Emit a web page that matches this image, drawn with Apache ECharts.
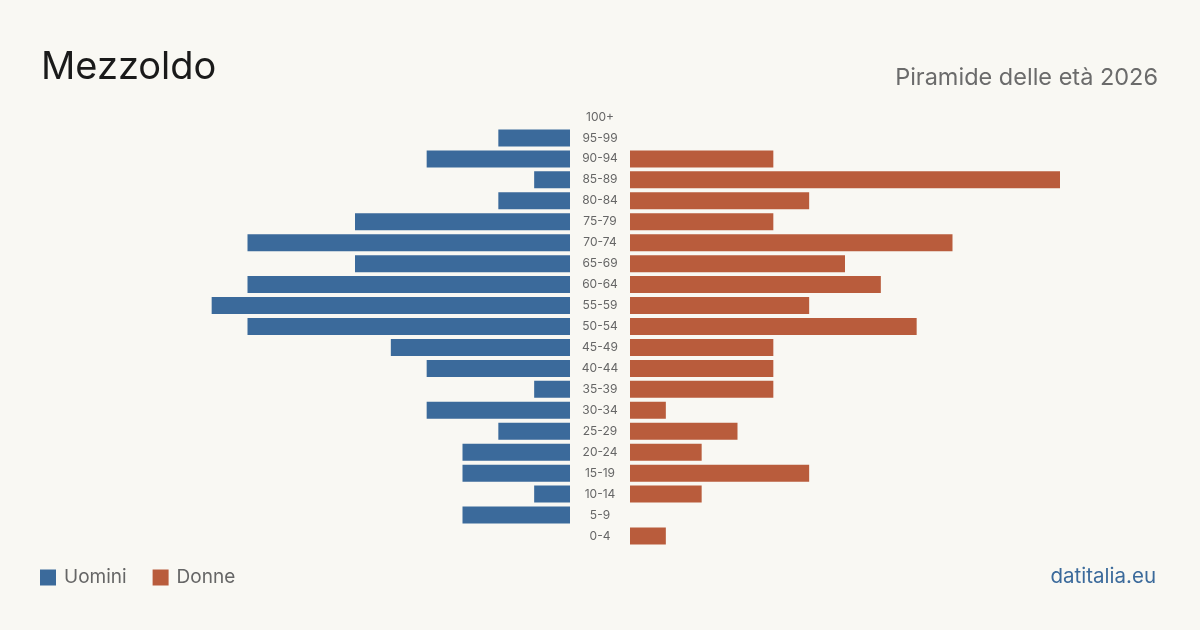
<!DOCTYPE html>
<html>
<head>
<meta charset="utf-8">
<script src="https://cdn.jsdelivr.net/npm/echarts@6/dist/echarts.min.js"></script>
<style>
  html, body { margin: 0; padding: 0; background: #f9f8f3; }
  #chart { width: 1200px; height: 630px; }
</style>
</head>
<body>
<div id="chart"></div>
<script>
// fasce d'età dal basso verso l'alto
const ageGroups = ['0-4', '5-9', '10-14', '15-19', '20-24', '25-29', '30-34', '35-39', '40-44', '45-49',
  '50-54', '55-59', '60-64', '65-69', '70-74', '75-79', '80-84', '85-89', '90-94', '95-99', '100+'];
const men = [0, 3, 1, 3, 3, 2, 4, 1, 4, 5, 9, 10, 9, 6, 9, 6, 2, 1, 4, 2, 0];
const women = [1, 0, 2, 5, 2, 3, 1, 4, 4, 4, 8, 5, 7, 6, 9, 4, 5, 12, 4, 0, 0];

const blue = '#3b6a9b';
const red = '#b95c3c';
const font = 'Inter, "Noto Sans", sans-serif';
const maxVal = 12;

const chart = echarts.init(document.getElementById('chart'));

chart.setOption({
  backgroundColor: '#f9f8f3',
  textStyle: { fontFamily: font },
  title: [
    {
      text: 'Mezzoldo',
      left: 41, top: 49, padding: 0,
      textStyle: { fontSize: 38, fontWeight: 400, color: '#1a1a1a', fontFamily: font }
    },
    {
      text: 'Piramide delle età 2026',
      right: 42, top: 66, padding: 0,
      textStyle: { fontSize: 23.5, fontWeight: 400, color: '#6b6b6b', fontFamily: font }
    },
    {
      text: 'datitalia.eu',
      right: 44, top: 566, padding: 0,
      textStyle: { fontSize: 20.5, fontWeight: 400, color: '#3b6a9b', fontFamily: font }
    }
  ],
  legend: {
    left: 40, top: 568, padding: 0,
    icon: 'rect',
    itemWidth: 16, itemHeight: 16,
    itemGap: 26,
    textStyle: { fontSize: 19, color: '#666', fontFamily: font, padding: [0, 0, 0, 3] },
    data: ['Uomini', 'Donne']
  },
  grid: [
    { left: 140, width: 430, top: 106.5, height: 440 },
    { left: 630, width: 430, top: 106.5, height: 440 }
  ],
  xAxis: [
    { gridIndex: 0, type: 'value', inverse: true, min: 0, max: maxVal, show: false },
    { gridIndex: 1, type: 'value', min: 0, max: maxVal, show: false }
  ],
  yAxis: [
    {
      gridIndex: 0, type: 'category', data: ageGroups, position: 'right',
      axisLine: { show: false }, axisTick: { show: false },
      axisLabel: { margin: 30, align: 'center', fontSize: 12, color: '#666', fontFamily: font }
    },
    {
      gridIndex: 1, type: 'category', data: ageGroups,
      axisLine: { show: false }, axisTick: { show: false }, axisLabel: { show: false }
    }
  ],
  series: [
    {
      name: 'Uomini', type: 'bar', xAxisIndex: 0, yAxisIndex: 0,
      data: men, barWidth: 17, itemStyle: { color: blue }, silent: true
    },
    {
      name: 'Donne', type: 'bar', xAxisIndex: 1, yAxisIndex: 1,
      data: women, barWidth: 17, itemStyle: { color: red }, silent: true
    }
  ]
});
</script>
</body>
</html>
